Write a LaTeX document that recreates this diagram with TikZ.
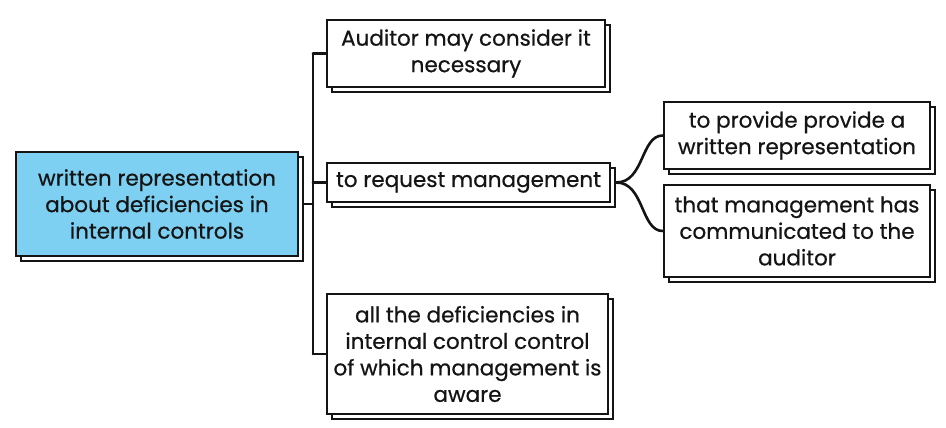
\documentclass[tikz,border=0pt]{standalone}
\usepackage{fontspec}
\setmainfont{Poppins}[FakeBold=0.6]
\usetikzlibrary{shadows}
\definecolor{rootblue}{RGB}{125,208,242}
\definecolor{ink}{RGB}{20,20,20}
\tikzset{
  box/.style={draw=ink, line width=2.6pt, fill=white, align=center, inner sep=0pt,
    font=\fontsize{21.5}{26.5}\selectfont, text=ink,
    general shadow={shadow xshift=5pt, shadow yshift=-5pt, draw=ink, fill=white, line width=2.6pt}},
  conn/.style={draw=ink, line width=2.6pt, line cap=round, line join=round},
}
\begin{document}
\begin{tikzpicture}[x=1pt,y=-1pt]
\useasboundingbox (0,0) rectangle (946,428);
\node[box, fill=rootblue, minimum width=282pt, minimum height=104pt] (root) at (157,204)
  {written representation\\about deficiencies in\\internal controls};
\node[box, minimum width=278pt, minimum height=67pt] (b1) at (466,53.5)
  {Auditor may consider it\\necessary};
\node[box, minimum width=283pt, minimum height=39pt] (b2) at (468.5,182.5)
  {to request management};
\node[box, minimum width=281pt, minimum height=120pt] (b3) at (467.5,354)
  {all the deficiencies in\\internal control control\\of which management is\\aware};
\node[box, minimum width=266pt, minimum height=67pt] (b4) at (797,135.5)
  {to provide provide a\\written representation};
\node[box, minimum width=266pt, minimum height=92pt] (b5) at (797,231)
  {that management has\\communicated to the\\auditor};
\coordinate (tk) at (313,0);
\draw[conn] ([xshift=5pt]root.east) -- (root.east -| tk);
\draw[conn] (b1.west -| tk) -- (b3.west -| tk);
\draw[conn] (tk |- b1.west) -- (b1.west);
\draw[conn] (tk |- b2.west) -- (b2.west);
\draw[conn] (tk |- b3.west) -- (b3.west);
\coordinate (fork) at ([xshift=5pt]b2.east);
\draw[conn] (fork) .. controls +(28,0) and +(-22,0) .. (b4.west);
\draw[conn] (fork) .. controls +(28,0) and +(-22,0) .. (b5.west);
\end{tikzpicture}
\end{document}
